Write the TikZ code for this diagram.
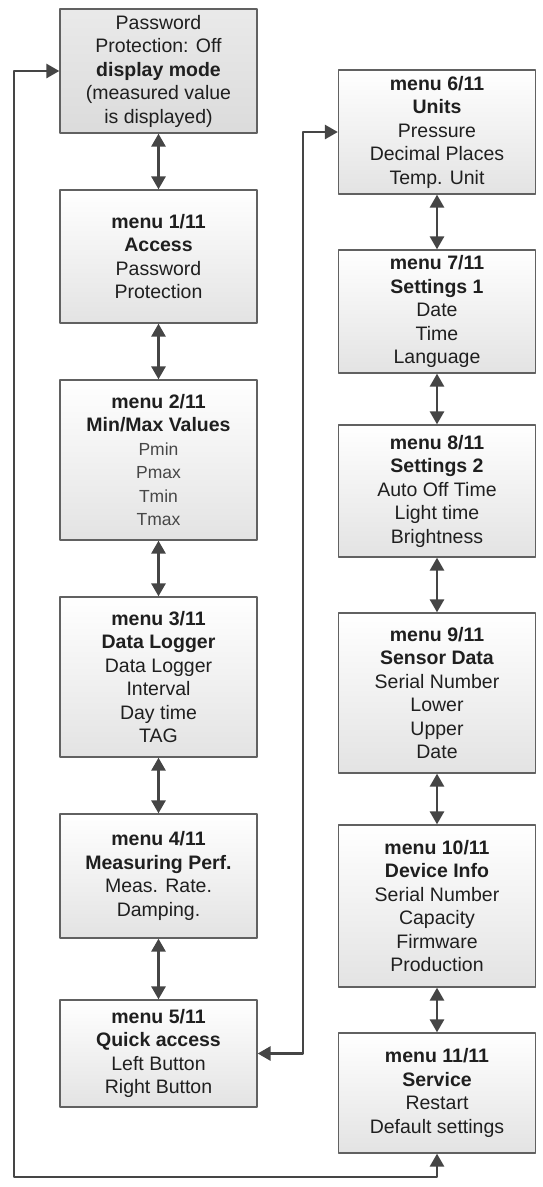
\documentclass[tikz,border=0pt]{standalone}
\usepackage{fontspec}
\setmainfont{Liberation Sans}
\usepackage{tikz}
\usetikzlibrary{arrows.meta}
\definecolor{linegray}{rgb}{0.27,0.27,0.27}
\definecolor{boxgray}{rgb}{0.38,0.38,0.38}
\definecolor{textgray}{rgb}{0.12,0.12,0.12}
\definecolor{itemgray}{rgb}{0.28,0.28,0.28}
\definecolor{shadegray}{rgb}{0.89,0.89,0.89}
\definecolor{startgray}{rgb}{0.86,0.86,0.86}
\tikzset{
menubox/.style={draw=boxgray,line width=1.3pt,top color=white,bottom color=shadegray,minimum width=197pt,inner sep=0pt,align=center,text=textgray,font=\fontsize{19.5}{23.5}\selectfont},
startbox/.style={menubox,top color=startgray!60,bottom color=startgray},
link/.style={<->,draw=linegray,line width=2.8pt}
}
\newcommand{\minmaxitem}[1]{{\fontsize{17.5}{23.5}\selectfont\color{itemgray}#1}}
\begin{document}
\begin{tikzpicture}[line cap=round,line join=round,>={Triangle[length=13pt,width=14pt]},x=1pt,y=-1pt]
\useasboundingbox (0,0) rectangle (543,1187);
% left column
\node[startbox,minimum height=124pt] (m0) at (158.5,71) {Password\\Protection: Off\\\textbf{display mode}\\(measured value\\is displayed)};
\node[menubox,minimum height=133pt] (m1) at (158.5,256.5) {\textbf{menu 1/11}\\\textbf{Access}\\Password\\Protection};
\node[menubox,minimum height=160pt] (m2) at (158.5,460) {\textbf{menu 2/11}\\\textbf{Min/Max Values}\\\minmaxitem{Pmin}\\\minmaxitem{Pmax}\\\minmaxitem{Tmin}\\\minmaxitem{Tmax}};
\node[menubox,minimum height=160pt] (m3) at (158.5,677) {\textbf{menu 3/11}\\\textbf{Data Logger}\\Data Logger\\Interval\\Day time\\TAG};
\node[menubox,minimum height=124pt] (m4) at (158.5,876) {\textbf{menu 4/11}\\\textbf{Measuring Perf.}\\Meas. Rate.\\Damping.};
\node[menubox,minimum height=107pt] (m5) at (158.5,1053.5) {\textbf{menu 5/11}\\\textbf{Quick access}\\Left Button\\Right Button};
% right column
\node[menubox,minimum height=124pt] (m6) at (437,132) {\textbf{menu 6/11}\\\textbf{Units}\\Pressure\\Decimal Places\\Temp. Unit};
\node[menubox,minimum height=123pt] (m7) at (437,311.5) {\textbf{menu 7/11}\\\textbf{Settings 1}\\Date\\Time\\Language};
\node[menubox,minimum height=132pt] (m8) at (437,491) {\textbf{menu 8/11}\\\textbf{Settings 2}\\Auto Off Time\\Light time\\Brightness};
\node[menubox,minimum height=160pt] (m9) at (437,693) {\textbf{menu 9/11}\\\textbf{Sensor Data}\\Serial Number\\Lower\\Upper\\Date};
\node[menubox,minimum height=162pt] (m10) at (437,906) {\textbf{menu 10/11}\\\textbf{Device Info}\\Serial Number\\Capacity\\Firmware\\Production};
\node[menubox,minimum height=120pt] (m11) at (437,1093) {\textbf{menu 11/11}\\\textbf{Service}\\Restart\\Default settings};
\foreach \a/\b in {m0/m1,m1/m2,m2/m3,m3/m4,m4/m5,m6/m7,m7/m8,m8/m9,m9/m10,m10/m11}
\draw[link] (\a.south) -- (\b.north);
\coordinate (qbend) at (303,0);
\draw[link] (m5.east) -- (m5.east -| qbend) |- (m6.west);
\coordinate (loopbottom) at (14,1177);
\draw[link] (m11.south) |- (loopbottom) |- (m0.west);
\end{tikzpicture}
\end{document}
